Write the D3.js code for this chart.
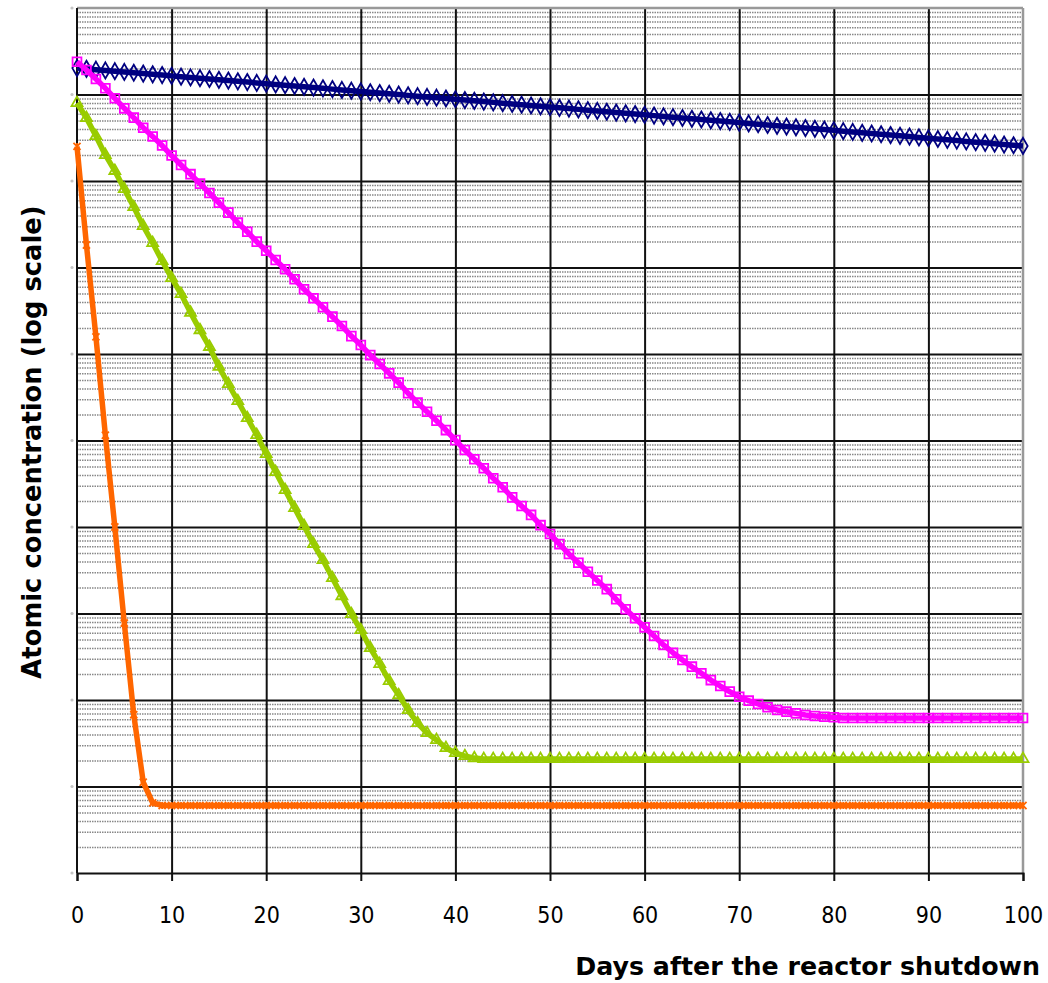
<!DOCTYPE html>
<html>
<head>
<meta charset="utf-8">
<script src="https://cdn.jsdelivr.net/npm/d3@7"></script>
<style>
body{margin:0;background:#fff;}
svg{display:block;}
</style>
</head>
<body>
<div id="chart"></div>
<script>
// days after shutdown (x), one point per day
const days = d3.range(0, 101);
const xTicks = [0, 10, 20, 30, 40, 50, 60, 70, 80, 90, 100];
const decades = [1, 1e1, 1e2, 1e3, 1e4, 1e5, 1e6, 1e7, 1e8, 1e9, 1e10];

// atomic concentrations (log scale, labels not legible)
const navySeries = [2.02e9,1.979e9,1.938e9,1.898e9,1.859e9,1.821e9,1.784e9,1.747e9,1.711e9,1.676e9,1.642e9,
  1.608e9,1.575e9,1.543e9,1.511e9,1.480e9,1.450e9,1.420e9,1.391e9,1.362e9,1.334e9,
  1.307e9,1.280e9,1.254e9,1.228e9,1.203e9,1.178e9,1.154e9,1.130e9,1.107e9,1.084e9,
  1.062e9,1.040e9,1.019e9,9.98e8,9.77e8,9.57e8,9.38e8,9.18e8,8.99e8,8.81e8,
  8.63e8,8.45e8,8.28e8,8.11e8,7.94e8,7.78e8,7.62e8,7.46e8,7.31e8,7.16e8,
  7.01e8,6.87e8,6.73e8,6.59e8,6.45e8,6.32e8,6.19e8,6.06e8,5.94e8,5.82e8,
  5.70e8,5.58e8,5.47e8,5.35e8,5.24e8,5.14e8,5.03e8,4.93e8,4.83e8,4.73e8,
  4.63e8,4.54e8,4.44e8,4.35e8,4.26e8,4.18e8,4.09e8,4.01e8,3.93e8,3.85e8,
  3.77e8,3.69e8,3.61e8,3.54e8,3.47e8,3.40e8,3.33e8,3.26e8,3.19e8,3.12e8,
  3.06e8,2.99e8,2.93e8,2.87e8,2.81e8,2.76e8,2.70e8,2.64e8,2.59e8,2.54e8];

const magentaSeries = [2.39e9,1.92e9,1.51e9,1.18e9,9.04e8,6.92e8,5.40e8,4.13e8,3.27e8,2.57e8,1.97e8,
  1.53e8,1.20e8,9.31e7,7.26e7,5.61e7,4.31e7,3.30e7,2.59e7,1.99e7,1.56e7,
  1.22e7,9.53e6,7.31e6,5.60e6,4.41e6,3.47e6,2.70e6,2.11e6,1.61e6,1.27e6,
  9.72e5,7.66e5,5.98e5,4.66e5,3.52e5,2.74e5,2.15e5,1.69e5,1.32e5,1.01e5,
  7.76e4,6.07e4,4.78e4,3.66e4,2.88e4,2.20e4,1.75e4,1.38e4,1.05e4,8.30e3,
  6.35e3,4.88e3,3.86e3,3.04e3,2.41e3,1.91e3,1.46e3,1.12e3,881,692,
  550,433,352,290,243,204,170,145,125,109,
  98.2,89.9,82.4,76.6,73.3,70.1,67.1,65.3,64.1,63.1,
  61.9,61.9,61.9,61.9,61.9,61.9,61.9,61.9,61.9,61.9,
  61.9,61.9,61.9,61.9,61.9,61.9,61.9,61.9,61.9,61.9];

const greenSeries = [7.98e8,5.35e8,3.31e8,2.00e8,1.31e8,8.09e7,5.00e7,3.02e7,1.92e7,1.19e7,7.57e6,
  4.94e6,3.01e6,1.89e6,1.21e6,7.13e5,4.50e5,2.86e5,1.82e5,1.16e5,6.98e4,
  4.33e4,2.68e4,1.66e4,1.03e4,6.36e3,4.15e3,2.57e3,1.59e3,986,644,
  399,261,166,114,76.6,54.2,41.5,34.5,27.9,24.4,
  22.5,21.3,20.8,20.8,20.8,20.8,20.8,20.8,20.8,20.8,
  20.8,20.8,20.8,20.8,20.8,20.8,20.8,20.8,20.8,20.8,
  20.8,20.8,20.8,20.8,20.8,20.8,20.8,20.8,20.8,20.8,
  20.8,20.8,20.8,20.8,20.8,20.8,20.8,20.8,20.8,20.8,
  20.8,20.8,20.8,20.8,20.8,20.8,20.8,20.8,20.8,20.8,
  20.8,20.8,20.8,20.8,20.8,20.8,20.8,20.8,20.8,20.8];

const orangeSeries = [2.51e8,1.82e7,1.58e6,1.15e5,1.00e4,776,67.6,11.2,6.46,6.03,6.03,
  6.03,6.03,6.03,6.03,6.03,6.03,6.03,6.03,6.03,6.03,
  6.03,6.03,6.03,6.03,6.03,6.03,6.03,6.03,6.03,6.03,
  6.03,6.03,6.03,6.03,6.03,6.03,6.03,6.03,6.03,6.03,
  6.03,6.03,6.03,6.03,6.03,6.03,6.03,6.03,6.03,6.03,
  6.03,6.03,6.03,6.03,6.03,6.03,6.03,6.03,6.03,6.03,
  6.03,6.03,6.03,6.03,6.03,6.03,6.03,6.03,6.03,6.03,
  6.03,6.03,6.03,6.03,6.03,6.03,6.03,6.03,6.03,6.03,
  6.03,6.03,6.03,6.03,6.03,6.03,6.03,6.03,6.03,6.03,
  6.03,6.03,6.03,6.03,6.03,6.03,6.03,6.03,6.03,6.03];

const W = 1048, H = 983;
const margin = {top: 8, right: 25, bottom: 110, left: 77};
const plotW = W - margin.left - margin.right,
      plotH = H - margin.top - margin.bottom;

const svg = d3.select("#chart").append("svg")
    .attr("width", W)
    .attr("height", H);

const g = svg.append("g")
    .attr("transform", `translate(${margin.left},${margin.top})`);

const x = d3.scaleLinear().domain([0, 100]).range([0, plotW]);
const y = d3.scaleLog().domain([1, 1e10]).range([plotH, 0]);

// minor grid (2..9 in each decade)
const minorTicks = decades.slice(0, -1).flatMap(p => [2, 3, 4, 5, 6, 7, 8, 9].map(m => m * p));
g.append("g")
    .attr("class", "minor-grid")
    .call(d3.axisLeft(y).tickValues(minorTicks).tickSize(-plotW).tickFormat(""))
    .call(s => s.select(".domain").remove())
    .selectAll("line")
    .attr("stroke", "#888")
    .attr("stroke-width", 1.5)
    .attr("stroke-dasharray", "1.5,1");

// vertical grid every 10 days
g.append("g")
    .attr("class", "vgrid")
    .call(d3.axisTop(x).tickValues(xTicks.slice(1, -1)).tickSize(-plotH).tickFormat(""))
    .call(s => s.select(".domain").remove())
    .selectAll("line")
    .attr("stroke", "#111")
    .attr("stroke-width", 2);

// major grid at each decade
g.append("g")
    .attr("class", "major-grid")
    .call(d3.axisLeft(y).tickValues(decades.slice(1, -1)).tickSize(-plotW).tickFormat(""))
    .call(s => s.select(".domain").remove())
    .selectAll("line")
    .attr("stroke", "#111")
    .attr("stroke-width", 2);

// top and right frame (grey)
g.append("line")
    .attr("x1", 0).attr("x2", plotW).attr("y1", 0).attr("y2", 0)
    .attr("stroke", "#999").attr("stroke-width", 2.5);
g.append("line")
    .attr("x1", plotW).attr("x2", plotW).attr("y1", 0).attr("y2", plotH)
    .attr("stroke", "#999").attr("stroke-width", 2.5);

// y axis: line plus faint dots where the labels would be
g.append("line")
    .attr("x1", 0).attr("x2", 0).attr("y1", 0).attr("y2", plotH)
    .attr("stroke", "#111").attr("stroke-width", 2);
g.selectAll(".ydot")
    .data(decades)
    .join("circle")
    .attr("class", "ydot")
    .attr("cx", -5)
    .attr("cy", d => y(d))
    .attr("r", 1.6)
    .attr("fill", "#c4c4c4");

// x axis
const xAxis = g.append("g")
    .attr("transform", `translate(0,${plotH})`)
    .call(d3.axisBottom(x).tickValues(xTicks).tickSize(8).tickPadding(26));
xAxis.select(".domain").attr("stroke", "#111").attr("stroke-width", 2);
xAxis.selectAll(".tick line").attr("stroke", "#111").attr("stroke-width", 2);
xAxis.selectAll(".tick text")
    .attr("fill", "#000")
    .style("font-family", "'DejaVu Sans Condensed', 'DejaVu Sans', sans-serif")
    .style("font-size", "23px");

// series
const series = [
  {name: "navy", values: navySeries, color: "#000080", symbol: d3.symbolDiamond, size: 75},
  {name: "magenta", values: magentaSeries, color: "#ff00ff", symbol: d3.symbolSquare, size: 78},
  {name: "green", values: greenSeries, color: "#99cc00", symbol: d3.symbolTriangle, size: 52},
  {name: "orange", values: orangeSeries, color: "#ff6600", symbol: "star", size: 50}
];

const starSymbol = {
  draw(ctx, size) {
    const r = Math.sqrt(size) / 2;
    ctx.moveTo(-r, -r); ctx.lineTo(r, r);
    ctx.moveTo(-r, r); ctx.lineTo(r, -r);
    ctx.moveTo(0, -r); ctx.lineTo(0, r);
  }
};

const line = d3.line()
    .x(d => x(d.day))
    .y(d => y(d.v));

series.forEach(function(s) {
  const pts = days.map((d, i) => ({day: d, v: s.values[i]}));
  const sg = g.append("g").attr("class", "series " + s.name);
  sg.append("path")
      .datum(pts)
      .attr("d", line)
      .attr("fill", "none")
      .attr("stroke", s.color)
      .attr("stroke-width", 5.5)
      .attr("stroke-linejoin", "round");
  const sym = d3.symbol().type(s.symbol === "star" ? starSymbol : s.symbol).size(s.size);
  sg.selectAll("path.marker")
      .data(pts)
      .join("path")
      .attr("class", "marker")
      .attr("transform", d => `translate(${x(d.day)},${y(d.v)})`)
      .attr("d", sym)
      .attr("fill", "none")
      .attr("stroke", s.color)
      .attr("stroke-width", 1.8);
});

// axis titles
svg.append("text")
    .attr("x", 1040)
    .attr("y", 975)
    .attr("text-anchor", "end")
    .style("font-family", "'DejaVu Sans', sans-serif")
    .style("font-weight", "bold")
    .style("font-size", "25.3px")
    .text("Days after the reactor shutdown");

svg.append("text")
    .attr("transform", "translate(41,442) rotate(-90)")
    .attr("text-anchor", "middle")
    .style("font-family", "'DejaVu Sans', sans-serif")
    .style("font-weight", "bold")
    .style("font-size", "25.8px")
    .text("Atomic concentration (log scale)");
</script>
</body>
</html>
